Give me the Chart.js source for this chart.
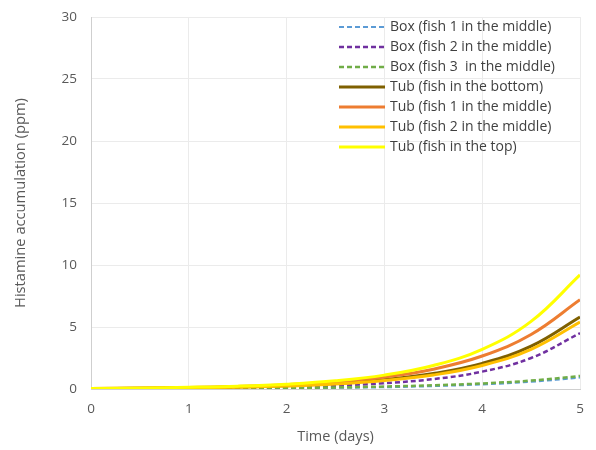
<!DOCTYPE html>
<html>
<head>
<meta charset="utf-8">
<script src="https://cdn.jsdelivr.net/npm/chart.js@4/dist/chart.umd.min.js"></script>
<style>
  html, body { margin: 0; padding: 0; background: #ffffff; }
  #wrap { width: 596px; height: 450px; position: relative; }
</style>
</head>
<body>
<div id="wrap"><canvas id="c" width="596" height="450"></canvas></div>
<script>
// Time (days)
const days = [0, 0.5, 1, 1.5, 2, 2.5, 3, 3.5, 4, 4.5, 5];

// Series names
const seriesNames = [
  "Box (fish 1 in the middle)",
  "Box (fish 2 in the middle)",
  "Box (fish 3  in the middle)",
  "Tub (fish in the bottom)",
  "Tub (fish 1 in the middle)",
  "Tub (fish 2 in the middle)",
  "Tub (fish in the top)"
];

// Histamine accumulation (ppm)
const boxFish1Middle = [0.01, 0.01, 0.02, 0.03, 0.05, 0.09, 0.14, 0.23, 0.37, 0.58, 0.92];
const boxFish2Middle = [0.02, 0.03, 0.05, 0.09, 0.15, 0.27, 0.47, 0.80, 1.40, 2.50, 4.50];
const boxFish3Middle = [0.01, 0.02, 0.03, 0.05, 0.08, 0.13, 0.20, 0.30, 0.45, 0.68, 1.05];
const tubFishBottom  = [0.04, 0.06, 0.10, 0.16, 0.27, 0.45, 0.75, 1.25, 2.07, 3.45, 5.80];
const tubFish1Middle = [0.05, 0.08, 0.13, 0.21, 0.35, 0.58, 0.96, 1.60, 2.66, 4.40, 7.20];
const tubFish2Middle = [0.03, 0.05, 0.09, 0.15, 0.24, 0.40, 0.68, 1.13, 1.90, 3.20, 5.40];
const tubFishTop     = [0.05, 0.08, 0.14, 0.23, 0.39, 0.66, 1.12, 1.90, 3.20, 5.45, 9.20];

// Axis ticks
const yTicks = [0, 5, 10, 15, 20, 25, 30];
const xTicks = [0, 1, 2, 3, 4, 5];

const seriesValues = [boxFish1Middle, boxFish2Middle, boxFish3Middle, tubFishBottom, tubFish1Middle, tubFish2Middle, tubFishTop];
const colors = ["#5b9bd5", "#7030a0", "#70ad47", "#7f6000", "#ed7d31", "#ffc000", "#ffff00"];
const dashed = [true, true, true, false, false, false, false];
const widths = [2, 2.5, 2.5, 3, 3, 3, 3];
const orders = [6, 5, 4, 3, 2, 1, 0];

const toXY = (vals) => vals.map((v, i) => ({ x: days[i], y: v }));

const datasets = seriesNames.map((name, i) => ({
  label: name,
  data: toXY(seriesValues[i]),
  borderColor: colors[i],
  backgroundColor: colors[i],
  borderWidth: widths[i],
  borderDash: dashed[i] ? [5, 3] : [],
  pointRadius: 0,
  fill: false,
  tension: 0.4,
  order: orders[i]
}));

const FONT = '"Open Sans", "Liberation Sans", sans-serif';

const legendPlugin = {
  id: 'insideLegend',
  afterDraw(chart) {
    const ctx = chart.ctx;
    const x0 = 339, x1 = 385, tx = 390;
    const y0 = 27, dy = 20;
    ctx.save();
    ctx.font = '14px ' + FONT;
    ctx.textBaseline = 'middle';
    ctx.textAlign = 'left';
    chart.data.datasets.forEach((ds, i) => {
      const y = y0 + i * dy;
      ctx.beginPath();
      ctx.strokeStyle = ds.borderColor;
      ctx.lineWidth = ds.borderWidth;
      ctx.setLineDash(ds.borderDash || []);
      ctx.moveTo(x0, y);
      ctx.lineTo(x1, y);
      ctx.stroke();
      ctx.setLineDash([]);
      ctx.fillStyle = '#404040';
      ctx.fillText(ds.label, tx, y);
    });
    ctx.restore();
  }
};

new Chart(document.getElementById('c'), {
  type: 'line',
  data: { datasets },
  plugins: [legendPlugin],
  options: {
    responsive: false,
    animation: false,
    layout: { padding: { top: 17, right: 16, left: 0, bottom: 0 } },
    plugins: {
      legend: { display: false },
      tooltip: { enabled: false }
    },
    scales: {
      x: {
        type: 'linear',
        min: 0, max: 5,
        afterBuildTicks: (s) => { s.ticks = xTicks.map(v => ({ value: v })); },
        afterFit: (s) => { s.height = 61; s.paddingLeft = 0; s.paddingRight = 0; },
        ticks: { color: '#595959', font: { size: 13.5, family: FONT }, padding: 12 },
        grid: { color: '#ebebeb', lineWidth: 1, drawTicks: false },
        border: { color: '#cfcfcf', width: 1 },
        title: { display: true, text: 'Time (days)', color: '#595959', font: { size: 14.5, family: FONT }, padding: { top: 4 } }
      },
      y: {
        min: 0, max: 30,
        afterBuildTicks: (s) => { s.ticks = yTicks.map(v => ({ value: v })); },
        afterFit: (s) => { s.width = 91; s.paddingTop = 0; s.paddingBottom = 0; },
        ticks: { color: '#595959', font: { size: 13.5, family: FONT }, padding: 14 },
        grid: { color: '#ebebeb', lineWidth: 1, drawTicks: false },
        border: { color: '#cfcfcf', width: 1 },
        title: { display: true, text: 'Histamine accumulation (ppm)', color: '#595959', font: { size: 14.7, family: FONT }, padding: { top: 12, bottom: 4 } }
      }
    }
  }
});
</script>
</body>
</html>
